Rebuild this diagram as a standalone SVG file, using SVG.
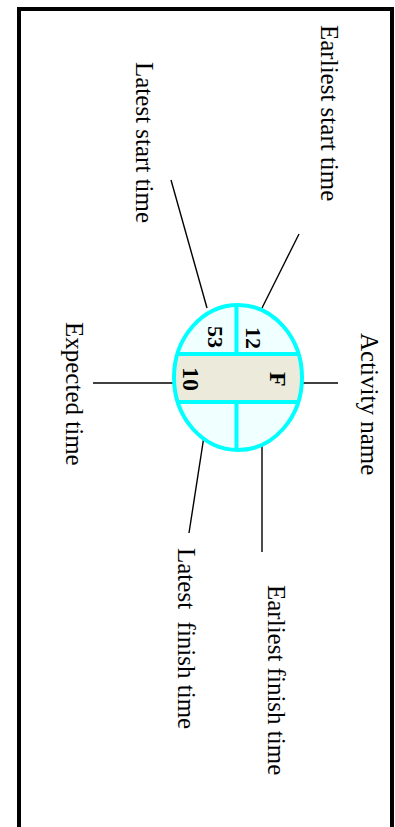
<svg xmlns="http://www.w3.org/2000/svg" width="395" height="827" viewBox="0 0 395 827">
<style>
.lbl{font-family:"Liberation Serif","Times New Roman",serif;font-size:25px;fill:#000;white-space:pre}
.val{font-family:"Liberation Serif","Times New Roman",serif;font-weight:bold;fill:#000}
.conn{stroke:#000;stroke-width:1.4;fill:none}
.cy{stroke:#00FFFF;stroke-width:4;fill:none}
</style>
<defs>
<clipPath id="ec"><ellipse cx="238" cy="377.5" rx="64" ry="72.5"/></clipPath>
</defs>
<rect x="19" y="9" width="373" height="840" fill="#fff" stroke="#000" stroke-width="4"/>
<g id="connectors">
<line class="conn" x1="299" y1="234" x2="262" y2="308"/>
<line class="conn" x1="171" y1="180" x2="207" y2="308"/>
<line class="conn" x1="300" y1="383" x2="338" y2="383"/>
<line class="conn" x1="93" y1="383" x2="185" y2="383"/>
<line class="conn" x1="206.5" y1="420" x2="189" y2="533"/>
<line class="conn" x1="262" y1="438" x2="262" y2="552"/>
</g>
<g id="node-F">
<ellipse cx="238" cy="377.5" rx="64" ry="72.5" fill="#F0FFFF"/>
<g clip-path="url(#ec)">
<rect x="170" y="354" width="140" height="48" fill="#ECEBDB"/>
<line class="cy" x1="170" y1="354" x2="310" y2="354"/>
<line class="cy" x1="170" y1="402" x2="310" y2="402"/>
<line class="cy" x1="236.5" y1="300" x2="236.5" y2="354"/>
<line class="cy" x1="236.5" y1="402" x2="236.5" y2="455"/>
</g>
<ellipse class="cy" cx="238" cy="377.5" rx="64" ry="72.5"/>
<text class="val" font-size="22" transform="translate(246,327) rotate(90)">12</text>
<text class="val" font-size="22" transform="translate(208,326) rotate(90)">53</text>
<text class="val" font-size="24" transform="translate(183,367) rotate(90)">10</text>
<text class="val" font-size="24" transform="translate(270,372) rotate(90)">F</text>
</g>
<g id="label-est"><text class="lbl" transform="translate(321,25) rotate(90)">Earliest start time</text></g>
<g id="label-lst"><text class="lbl" transform="translate(136,62) rotate(90)">Latest start time</text></g>
<g id="label-exp"><text class="lbl" transform="translate(66,322) rotate(90)">Expected time</text></g>
<g id="label-act"><text class="lbl" transform="translate(361,333) rotate(90)">Activity name</text></g>
<g id="label-lft"><text class="lbl" transform="translate(178,548) rotate(90)">Latest  finish time</text></g>
<g id="label-eft"><text class="lbl" transform="translate(268,585) rotate(90)">Earliest finish time</text></g>
</svg>
